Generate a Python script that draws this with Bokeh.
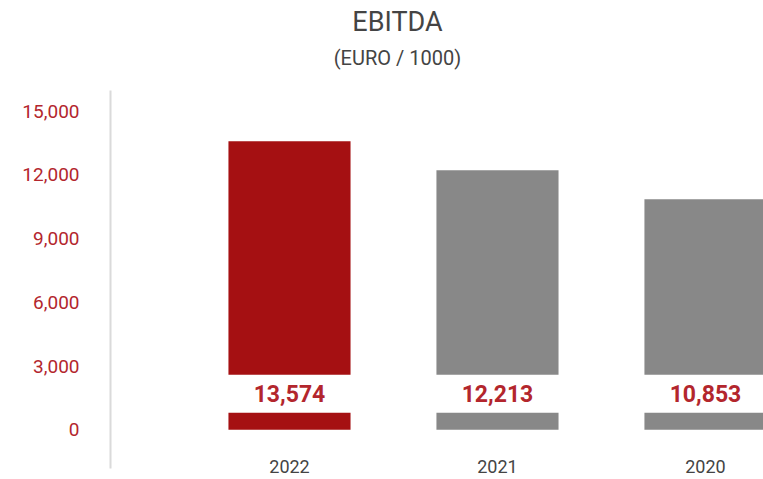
from bokeh.plotting import figure
from bokeh.models import (ColumnDataSource, Range1d, FixedTicker, NumeralTickFormatter)
from bokeh.core.properties import value
from bokeh.embed import file_html
from bokeh.resources import INLINE

# ---- data ----
years = ["2022", "2021", "2020"]
ebitda = [13574, 12213, 10853]
bar_colors = ["#a51012", "#888888", "#888888"]
y_ticks = [0, 3000, 6000, 9000, 12000, 15000]
title_text = "EBITDA"
subtitle_text = "(EURO / 1000)"

FONT = "Roboto"
idx = list(range(len(years)))

src = ColumnDataSource(dict(
    x=idx,
    year=years,
    val=ebitda,
    color=bar_colors,
    label=[f"{v:,}" for v in ebitda],
))

p = figure(width=763, height=479, output_backend="svg", toolbar_location=None,
           title=None,
           x_range=Range1d(-0.8606, 2.279), y_range=Range1d(-2339, 20202),
           x_axis_location=None,
           min_border_left=110, min_border_right=0, min_border_top=0,
           min_border_bottom=0)
p.outline_line_color = None
p.grid.visible = False

BW = 0.587
p.vbar(x="x", top="val", bottom=0, width=BW, fill_color="color",
       line_color=None, source=src)
# white band behind value labels
p.vbar(x="x", top=2590, bottom=800, width=BW + 0.02, fill_color="white",
       line_color=None, source=src)

p.text(x="x", y=1700, text="label", source=src, text_align="center",
       text_baseline="middle", text_font=value(FONT), text_font_style="bold",
       text_font_size="23px", text_color="#b3262d")

p.text(x="x", y=-1730, text="year", source=src, text_align="center",
       text_baseline="middle", text_font=value(FONT),
       text_font_size="18px", text_color="#444444")

# chart title and subtitle
p.text(x=[0.519], y=[19167], text=[title_text], text_align="center",
       text_baseline="middle", text_font=value(FONT), text_font_size="27px",
       text_color="#444444")
p.text(x=[0.519], y=[17473], text=[subtitle_text], text_align="center",
       text_baseline="middle", text_font=value(FONT), text_font_size="20px",
       text_color="#444444")

yax = p.yaxis[0]
yax.ticker = FixedTicker(ticks=y_ticks)
yax.formatter = NumeralTickFormatter(format="0,0")
yax.bounds = (-1821, 15967)
yax.major_tick_line_color = None
yax.minor_tick_line_color = None
yax.major_label_standoff = 25
yax.axis_line_color = "#dadada"
yax.axis_line_width = 2
yax.major_label_text_color = "#b3262d"
yax.major_label_text_font = FONT
yax.major_label_text_font_size = "19px"

open("out.html", "w").write(file_html(p, INLINE))
